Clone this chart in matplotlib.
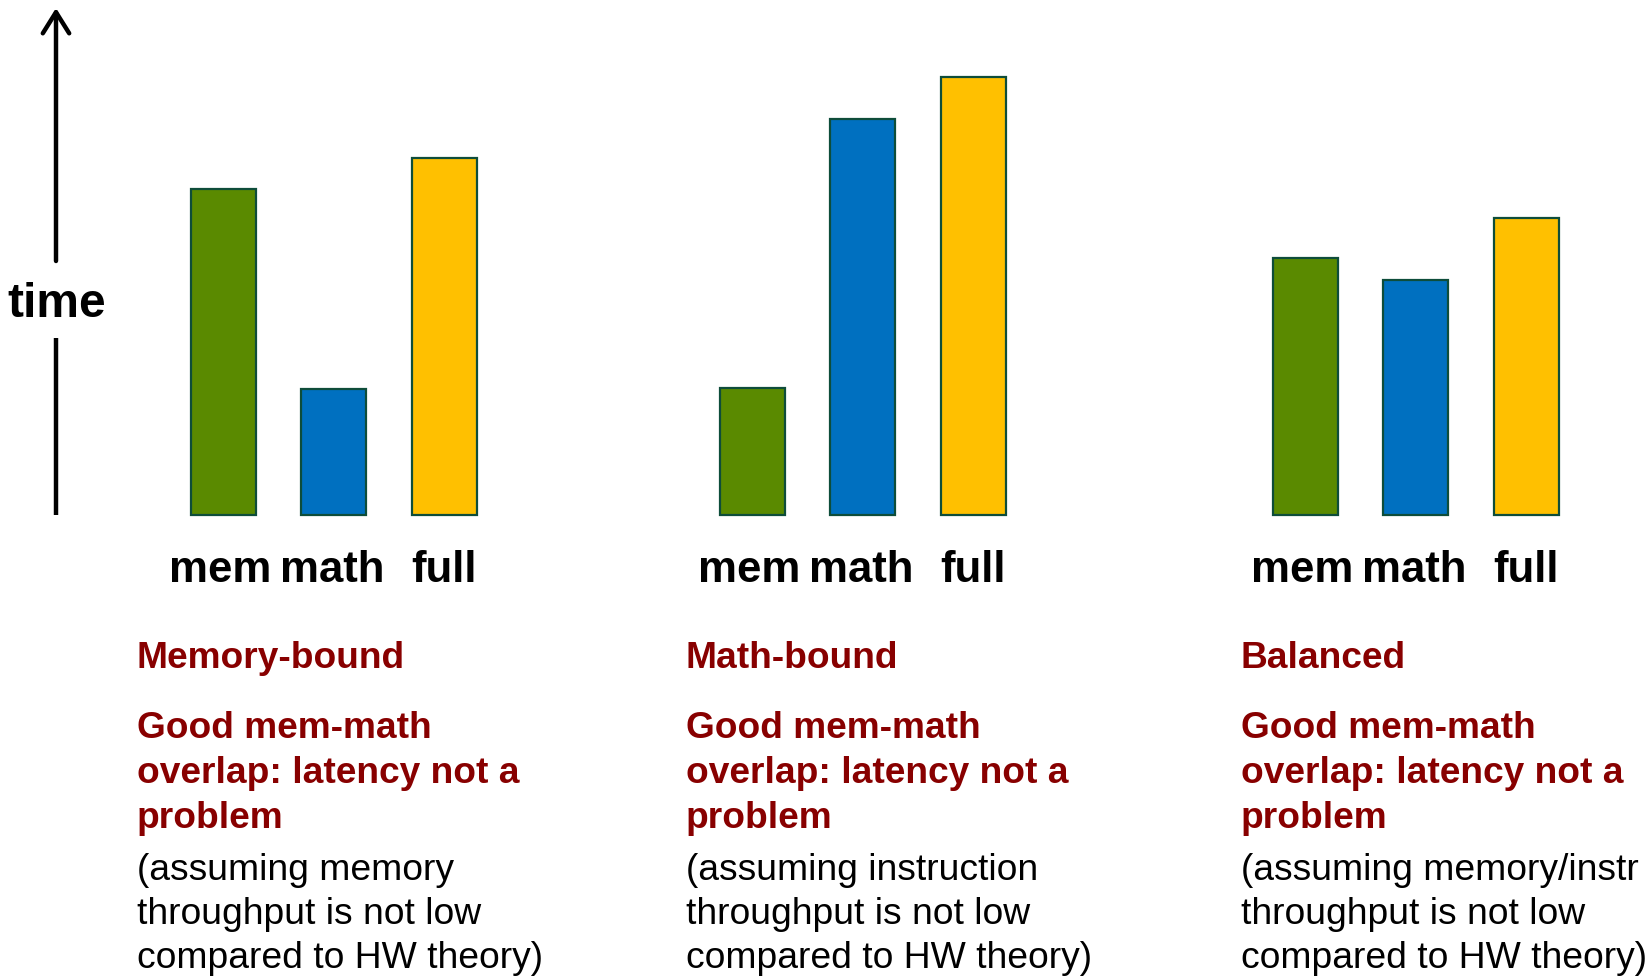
import matplotlib.pyplot as plt

plt.rcParams['font.family'] = ['Liberation Sans', 'DejaVu Sans']

# Data (time, arbitrary units)
bar_labels = ['mem', 'math', 'full']
mem_time  = [310, 121, 245]
math_time = [120, 377, 224]
full_time = [340, 417, 283]
titles = ['Memory-bound', 'Math-bound', 'Balanced']
bold_lines = ['Good mem-math', 'overlap: latency not a', 'problem']
notes = [
    ['(assuming memory', 'throughput is not low', 'compared to HW theory)'],
    ['(assuming instruction', 'throughput is not low', 'compared to HW theory)'],
    ['(assuming memory/instr', 'throughput is not low', 'compared to HW theory)'],
]

colors = ['#5A8A00', '#0070C0', '#FFC000']
edge = '#0E4D3A'
red = '#880000'

W, H = 1648, 977
fig = plt.figure(figsize=(W / 100, H / 100), dpi=100)
ax = fig.add_axes([0, 0, 1, 1])
ax.set_xlim(0, W)
ax.set_ylim(0, H)
ax.axis('off')

scale = 1.051          # px per unit
base = 462             # baseline of bars
group_x = [334, 863, 1416]
step = 110.5
bw = 65
text_x = [137, 686, 1241]
label_dx = [-3, -2, 0]   # small nudges of the bar labels

for g in range(3):
    vals = [mem_time[g], math_time[g], full_time[g]]
    for i, v in enumerate(vals):
        x = group_x[g] + (i - 1) * step
        ax.bar(x, v * scale, width=bw, bottom=base, color=colors[i],
               edgecolor=edge, linewidth=1.6)
        ax.text(x + label_dx[i], 395, bar_labels[i], ha='center', va='baseline',
                fontsize=31.5, fontweight='bold', color='black')

    tx = text_x[g]
    ax.text(tx, 309, titles[g], ha='left', va='baseline', fontsize=26.7,
            fontweight='bold', color=red)
    for j, line in enumerate(bold_lines):
        ax.text(tx, 239 - j * 45, line, ha='left', va='baseline',
                fontsize=26.7, fontweight='bold', color=red)
    for j, line in enumerate(notes[g]):
        ax.text(tx, 97 - j * 44, line, ha='left', va='baseline',
                fontsize=26.8, color='black')

# time axis arrow
ax.plot([56, 56], [base, 639], color='black', lw=3.2, solid_capstyle='butt')
ax.annotate('', xy=(56, 969), xytext=(56, 716),
            arrowprops=dict(arrowstyle='->,head_length=0.4,head_width=0.25',
                            lw=3.2, color='black', mutation_scale=38,
                            shrinkA=0, shrinkB=0))
ax.text(57, 660, 'time', ha='center', va='baseline', fontsize=34.5,
        fontweight='bold', color='black')

fig.savefig('out.png', dpi=100)
plt.close(fig)
